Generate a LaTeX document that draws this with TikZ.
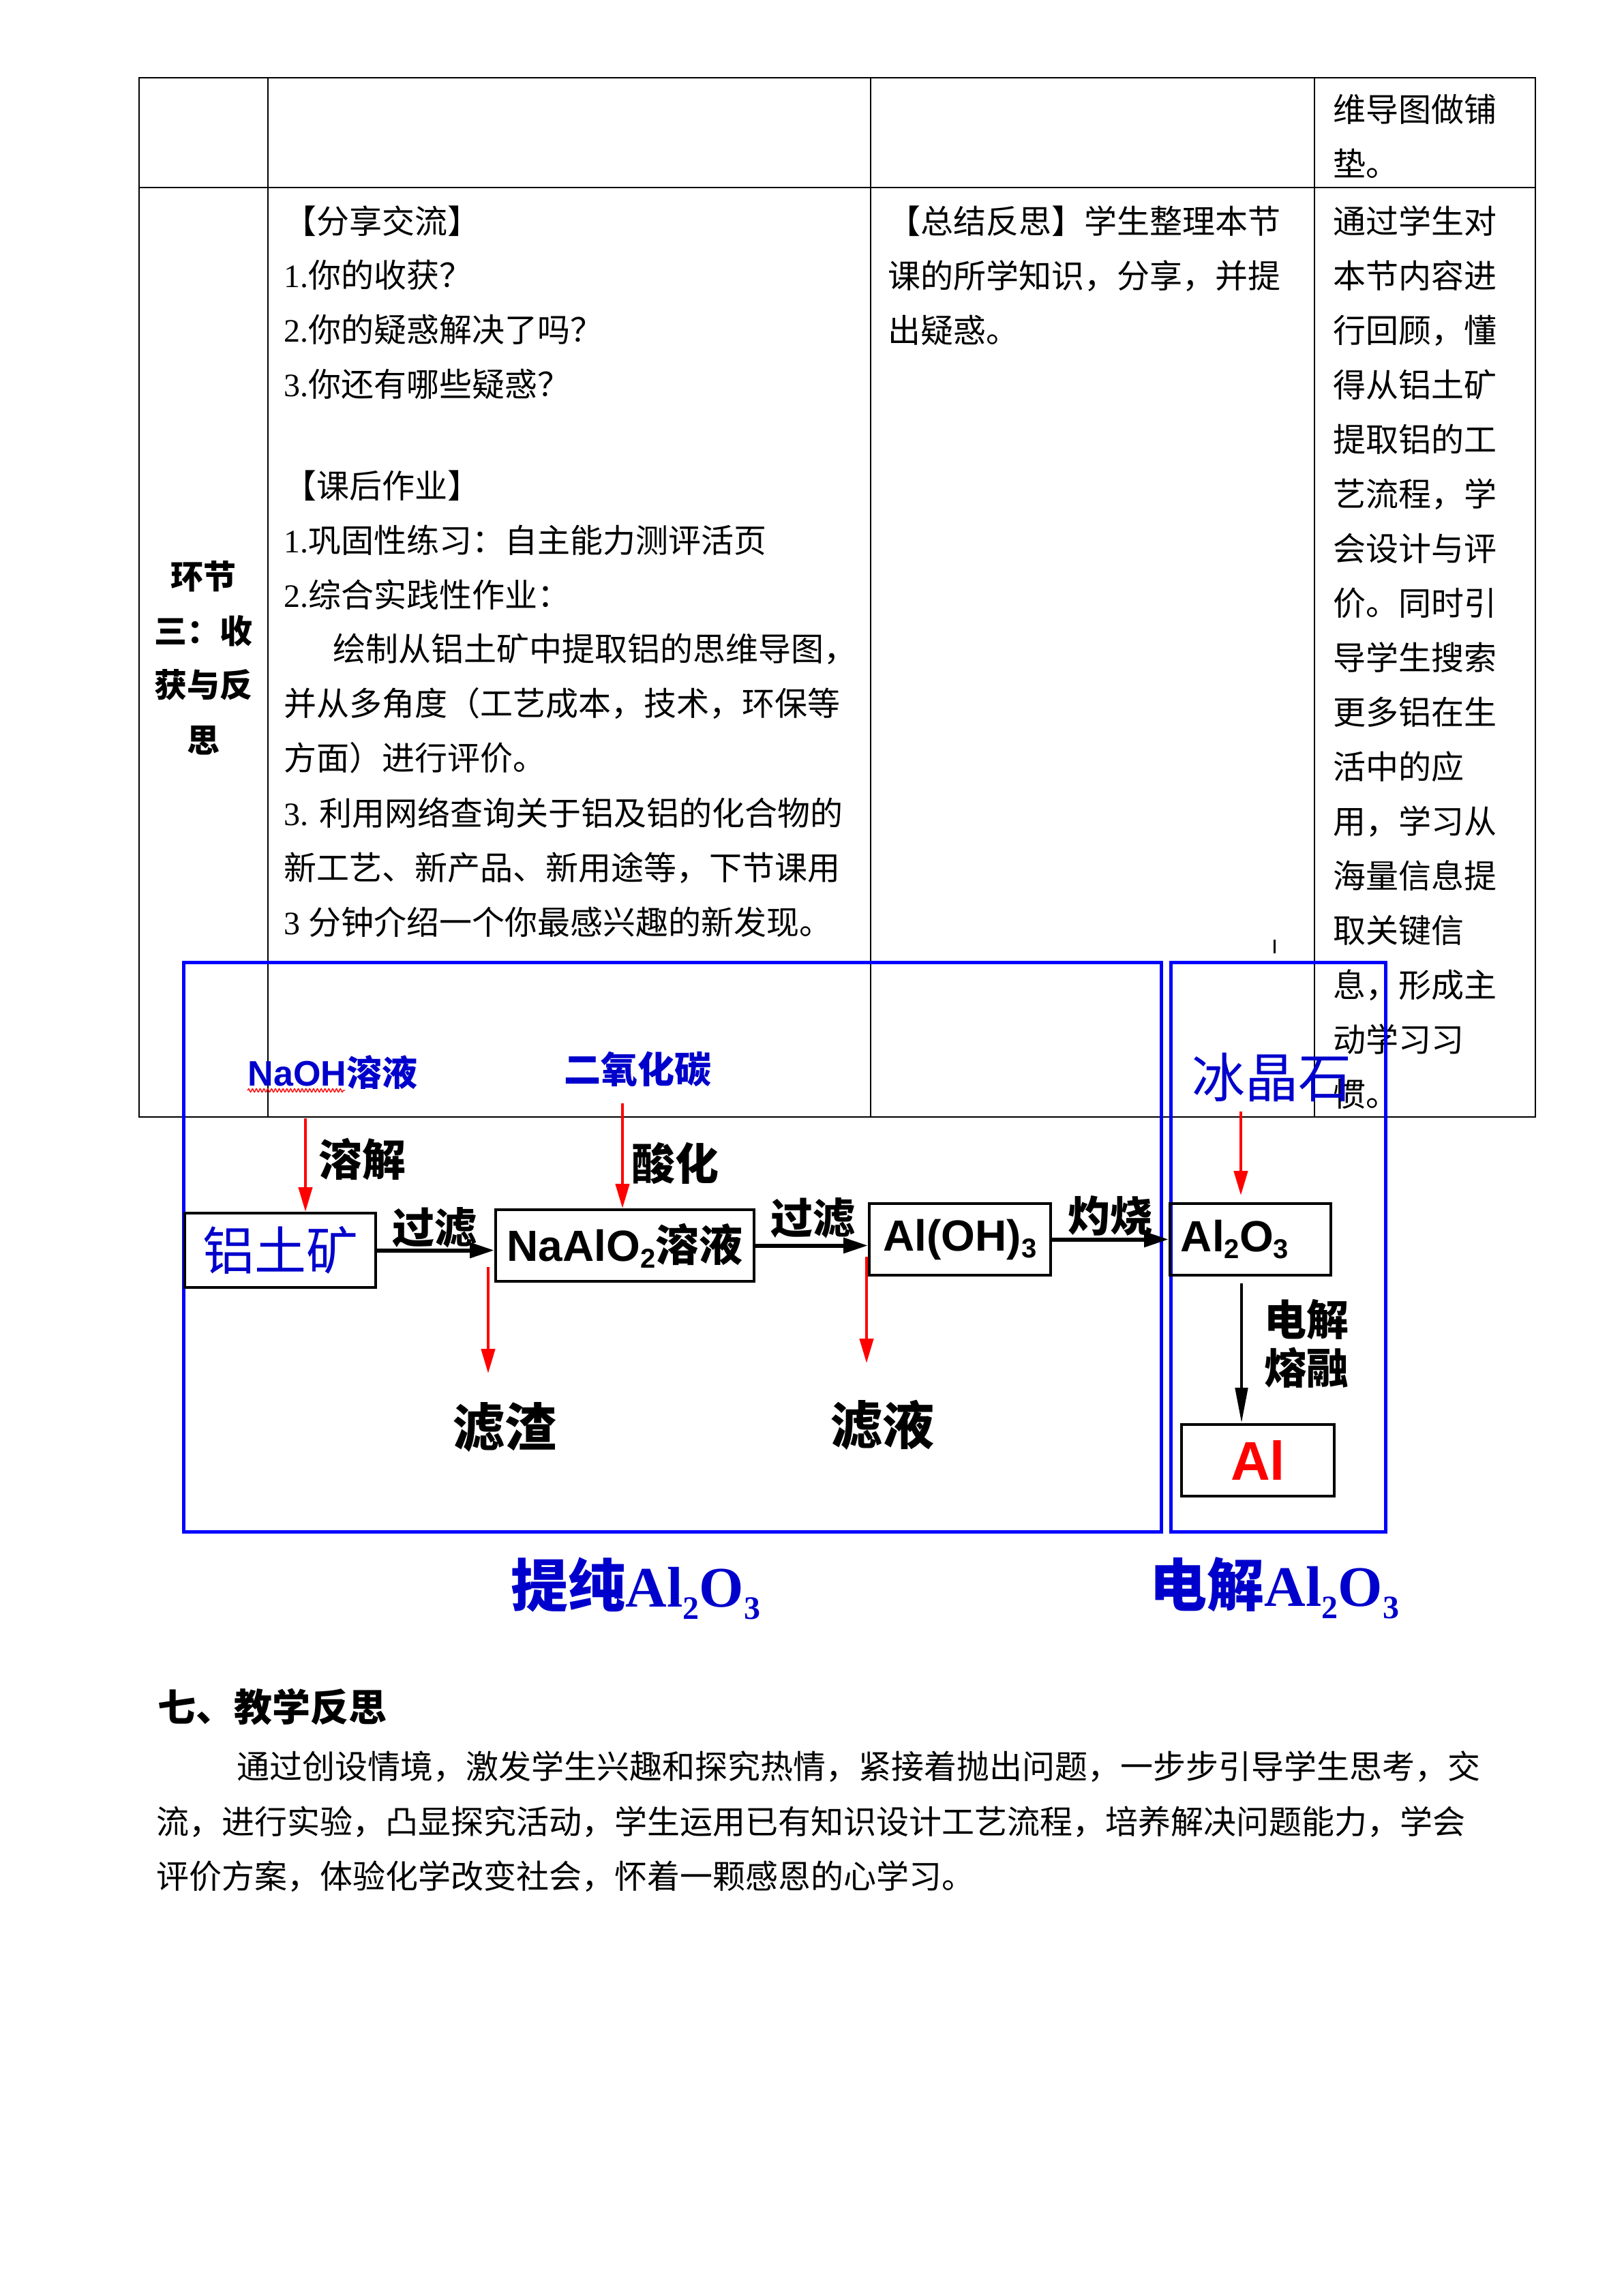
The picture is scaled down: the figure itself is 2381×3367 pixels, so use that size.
\documentclass[tikz,border=0pt]{standalone}
\usepackage{fontspec}
\setmainfont{Liberation Serif}
\newfontfamily\cjk{Noto Sans CJK SC}
\newfontfamily\arialf{Liberation Sans}
\usetikzlibrary{arrows.meta,decorations.pathmorphing}
\definecolor{dblue}{RGB}{0,0,204}
\newcommand\sbs[1]{\raisebox{-2.5pt}{\fontsize{10}{10}\selectfont #1}}
\newcommand\tsb[1]{\raisebox{-4.5pt}{\fontsize{12}{12}\selectfont #1}}
\tikzset{
  body/.style={inner sep=0pt, anchor=base west, font=\cjk\fontsize{12}{14}\selectfont},
  bodyc/.style={inner sep=0pt, anchor=base, font=\cjk\bfseries\fontsize{12}{14}\selectfont},
  tbl/.style={line width=0.6pt},
  bluebox/.style={draw=blue, line width=1.25pt},
  flowbox/.style={draw, line width=1pt, inner sep=0pt},
  lbl/.style={inner sep=0pt, font=\cjk\bfseries\fontsize{#1}{#1}\selectfont},
  blbl/.style={inner sep=0pt, text=dblue, font=\cjk\bfseries\fontsize{#1}{#1}\selectfont},
  flowarrow/.style={line width=1.5pt, -{Triangle[length=9pt,width=5.5pt]}},
  redarrow/.style={draw=red, line width=1.1pt, -{Triangle[length=9pt,width=5pt]}},
  downarrow/.style={line width=1.2pt, -{Triangle[length=13pt,width=4.5pt]}},
}
\begin{document}
\begin{tikzpicture}[x=0.25pt,y=-0.25pt]
\useasboundingbox (0,0) rectangle (2381,3367);
\fill[white] (0,0) rectangle (2381,3367);

% ---------------- table ----------------
\draw[tbl] (204,114) rectangle (2252,1638);
\draw[tbl] (204,275) -- (2252,275);
\draw[tbl] (393,114) -- (393,1638);
\draw[tbl] (1277,114) -- (1277,1638);
\draw[tbl] (1928,114) -- (1928,1638);

% top row, last column
\node[body] (r0a) at (1955,178) {维导图做铺};
\node[body] (r0b) at (1955,258) {垫。};

% first column
\node[bodyc] (c1a) at (298,863) {环节};
\node[bodyc] (c1b) at (298,943) {三：收};
\node[bodyc] (c1c) at (298,1022) {获与反};
\node[bodyc] (c1d) at (298,1103) {思};

% second column
\node[body] (c2a) at (416,342) {【分享交流】};
\node[body] (c2b) at (416,421) {{\rmfamily 1.}你的收获？};
\node[body] (c2c) at (416,501) {{\rmfamily 2.}你的疑惑解决了吗？};
\node[body] (c2d) at (416,581) {{\rmfamily 3.}你还有哪些疑惑？};
\node[body] (c2e) at (416,730) {【课后作业】};
\node[body] (c2f) at (416,810) {{\rmfamily 1.}巩固性练习：自主能力测评活页};
\node[body] (c2g) at (416,890) {{\rmfamily 2.}综合实践性作业：};
\node[body] (c2h) at (488,969) {绘制从铝土矿中提取铝的思维导图，};
\node[body] (c2i) at (416,1049) {并从多角度（工艺成本，技术，环保等};
\node[body] (c2j) at (416,1129) {方面）进行评价。};
\node[body] (c2k) at (416,1210) {{\rmfamily 3. }利用网络查询关于铝及铝的化合物的};
\node[body] (c2l) at (416,1290) {新工艺、新产品、新用途等，下节课用};
\node[body] (c2m) at (416,1370) {{\rmfamily 3 }分钟介绍一个你最感兴趣的新发现。};

% third column
\node[body] (c3a) at (1302,342) {【总结反思】学生整理本节};
\node[body] (c3b) at (1302,422) {课的所学知识，分享，并提};
\node[body] (c3c) at (1302,502) {出疑惑。};

% fourth column
\node[body] (c4a) at (1955,342) {通过学生对};
\node[body] (c4b) at (1955,422) {本节内容进};
\node[body] (c4c) at (1955,502) {行回顾，懂};
\node[body] (c4d) at (1955,582) {得从铝土矿};
\node[body] (c4e) at (1955,662) {提取铝的工};
\node[body] (c4f) at (1955,742) {艺流程，学};
\node[body] (c4g) at (1955,822) {会设计与评};
\node[body] (c4h) at (1955,902) {价。同时引};
\node[body] (c4i) at (1955,982) {导学生搜索};
\node[body] (c4j) at (1955,1062) {更多铝在生};
\node[body] (c4k) at (1955,1142) {活中的应};
\node[body] (c4l) at (1955,1222) {用，学习从};
\node[body] (c4m) at (1955,1302) {海量信息提};
\node[body] (c4n) at (1955,1382) {取关键信};
\node[body] (c4o) at (1955,1462) {息，形成主};
\node[body] (c4p) at (1955,1542) {动学习习};
\node[body] (c4q) at (1955,1622) {惯。};

% stray tick
\draw[line width=0.75pt] (1869,1378) -- (1869,1398);

% ---------------- flow diagram ----------------
\draw[bluebox] (269,1411) rectangle (1703,2246);
\draw[bluebox] (1717,1411) rectangle (2032,2246);

\node[inner sep=0pt, text=dblue, font=\bfseries\fontsize{13}{13}\selectfont] (naoh) at (488,1572) {{\arialf NaOH}{\cjk 溶液}};
\draw[red, line width=0.35pt, decorate, decoration={snake, amplitude=0.6pt, segment length=1.4pt}] (363,1599) -- (506,1599);
\node[blbl=13.5] (co2) at (935,1568) {二氧化碳};
\node[inner sep=0pt, text=dblue, font=\cjk\fontsize{19.5}{19.5}\selectfont] (cryo) at (1865,1580) {冰晶石};

\node[flowbox, minimum width=70pt, minimum height=27.25pt, text=dblue, font=\cjk\fontsize{19}{19}\selectfont] (ore) at (411,1833.5) {铝土矿};
\node[flowbox, minimum width=94.75pt, minimum height=26.25pt, font=\arialf\bfseries\fontsize{16}{16}\selectfont] (naalo) at (916.5,1826.5) {NaAlO\sbs{2}{\cjk 溶液}};
\node[flowbox, minimum width=66.5pt, minimum height=26.25pt, font=\arialf\bfseries\fontsize{16}{16}\selectfont] (aloh) at (1408,1817.5) {Al(OH)\sbs{3}};
\node[flowbox, minimum width=59pt, minimum height=26.25pt, font=\arialf\bfseries\fontsize{16}{16}\selectfont] (alo) at (1834,1817.5) {Al\sbs{2}O\sbs{3}\rule{11.5pt}{0pt}};
\node[flowbox, minimum width=56pt, minimum height=26.25pt, text=red, font=\arialf\bfseries\fontsize{20}{20}\selectfont] (al) at (1845,2141.5) {Al};

\node[lbl=16] (dis) at (531,1700) {溶解};
\node[lbl=16] (acid) at (990,1706) {酸化};
\node[lbl=15.5] (f1) at (637,1800) {过滤};
\node[lbl=15.5] (f2) at (1192,1786) {过滤};
\node[lbl=15.5] (burn) at (1628,1783) {灼烧};
\node[lbl=15.5] (el1) at (1916,1935) {电解};
\node[lbl=15.5] (el2) at (1916,2006) {熔融};
\node[lbl=19] (slag) at (740,2093) {滤渣};
\node[lbl=19] (filt) at (1294,2090) {滤液};

% horizontal flow arrows
\draw[flowarrow] (ore.east) -- (ore.east -| naalo.west);
\draw[flowarrow] (naalo.east) -- (naalo.east -| aloh.west);
\draw[flowarrow] (aloh.east) -- (aloh.east -| alo.west);

% red arrows
\coordinate (naohtail) at (448,1640);
\coordinate (co2tail) at (913,1618);
\coordinate (cryotail) at (1820,1630);
\coordinate (slagtail) at (716,1858);
\coordinate (slaghead) at (716,2014);
\coordinate (filttail) at (1271,1843);
\coordinate (filthead) at (1271,1999);
\draw[redarrow] (naohtail) -- (naohtail |- ore.north);
\draw[redarrow] (co2tail) -- (co2tail |- naalo.north);
\draw[redarrow, shorten >=2.5pt] (cryotail) -- (cryotail |- alo.north);
\draw[redarrow] (slagtail) -- (slaghead);
\draw[redarrow] (filttail) -- (filthead);

% electrolysis arrow
\coordinate (eltail) at (1821,1882);
\draw[downarrow] (eltail) -- (eltail |- al.north);

% captions
\node[anchor=base west, inner sep=0pt, text=dblue, font=\bfseries\fontsize{21}{21}\selectfont] (cap1) at (749,2356) {{\cjk 提纯}Al\tsb{2}O\tsb{3}};
\node[anchor=base west, inner sep=0pt, text=dblue, font=\bfseries\fontsize{21}{21}\selectfont] (cap2) at (1686,2355) {{\cjk 电解}Al\tsb{2}O\tsb{3}};

% ---------------- reflection ----------------
\node[inner sep=0pt, anchor=base west, font=\cjk\bfseries\fontsize{14}{16}\selectfont] (h7) at (231,2524) {七、教学反思};
\node[body] (p1) at (347,2608) {通过创设情境，激发学生兴趣和探究热情，紧接着抛出问题，一步步引导学生思考，交};
\node[body] (p2) at (229,2689) {流，进行实验，凸显探究活动，学生运用已有知识设计工艺流程，培养解决问题能力，学会};
\node[body] (p3) at (229,2769) {评价方案，体验化学改变社会，怀着一颗感恩的心学习。};
\end{tikzpicture}
\end{document}
